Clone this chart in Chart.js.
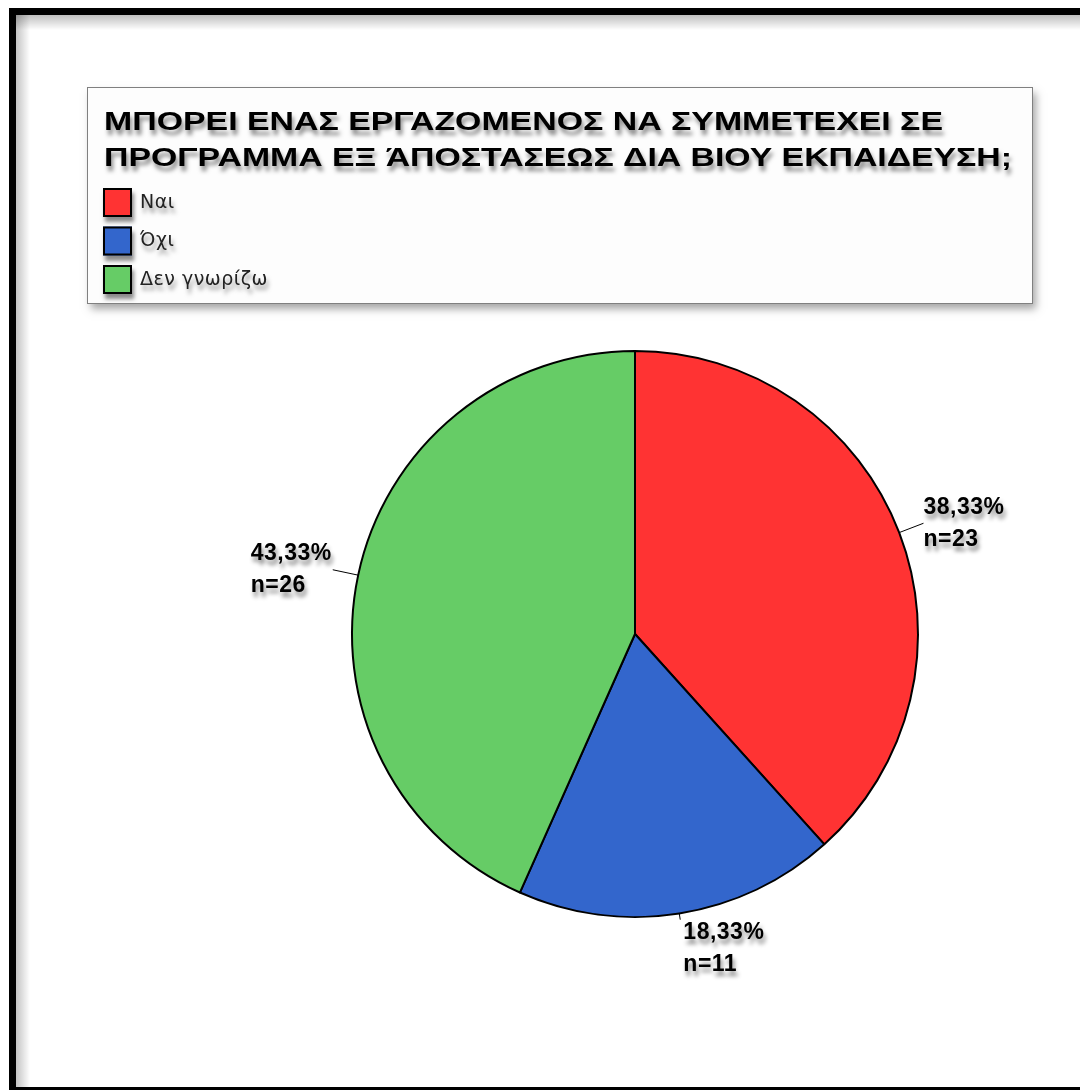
<!DOCTYPE html>
<html>
<head>
<meta charset="utf-8">
<script src="https://cdn.jsdelivr.net/npm/chart.js@4/dist/chart.umd.min.js"></script>
<style>
  html, body { margin: 0; padding: 0; background: #fff; }
  #wrap { width: 1080px; height: 1090px; }
</style>
</head>
<body>
<div id="wrap"><canvas id="pieChart" width="1080" height="1090"></canvas></div>
<script>
const categories = ['Ναι', 'Όχι', 'Δεν γνωρίζω'];
const counts = [23, 11, 26];
const titleLines = [
    'ΜΠΟΡΕΙ ΕΝΑΣ ΕΡΓΑΖΟΜΕΝΟΣ ΝΑ ΣΥΜΜΕΤΕΧΕΙ ΣΕ',
    'ΠΡΟΓΡΑΜΜΑ ΕΞ ΆΠΟΣΤΑΣΕΩΣ ΔΙΑ ΒΙΟΥ ΕΚΠΑΙΔΕΥΣΗ;'
];
const sliceColors = ['#ff3333', '#3366cc', '#66cc66'];

const total = counts.reduce((a, b) => a + b, 0);
const pct = v => (v / total * 100).toFixed(2).replace('.', ',') + '%';

function shadowOn(ctx, blur, dx, dy, alpha) {
    ctx.shadowColor = 'rgba(0,0,0,' + alpha + ')';
    ctx.shadowBlur = blur;
    ctx.shadowOffsetX = dx;
    ctx.shadowOffsetY = dy;
}
function shadowOff(ctx) {
    ctx.shadowColor = 'rgba(0,0,0,0)';
    ctx.shadowBlur = 0;
    ctx.shadowOffsetX = 0;
    ctx.shadowOffsetY = 0;
}
// draw text stretched horizontally to a given width
function fitText(ctx, text, x, y, width) {
    const w = ctx.measureText(text).width;
    ctx.save();
    ctx.translate(x, y);
    ctx.scale(width / w, 1);
    ctx.fillText(text, 0, 0);
    ctx.restore();
}

// background, outer frame and legend box
const framePlugin = {
    id: 'frame',
    beforeDraw(chart) {
        const ctx = chart.ctx;
        ctx.save();
        ctx.letterSpacing = '0px';
        ctx.fillStyle = '#ffffff';
        ctx.fillRect(0, 0, chart.width, chart.height);

        // soft inner shadow of the frame
        const g1 = ctx.createLinearGradient(15, 0, 30, 0);
        g1.addColorStop(0, 'rgba(0,0,0,0.25)');
        g1.addColorStop(1, 'rgba(0,0,0,0)');
        ctx.fillStyle = g1;
        ctx.fillRect(15, 15, 15, chart.height);
        const g2 = ctx.createLinearGradient(0, 15, 0, 30);
        g2.addColorStop(0, 'rgba(0,0,0,0.25)');
        g2.addColorStop(1, 'rgba(0,0,0,0)');
        ctx.fillStyle = g2;
        ctx.fillRect(15, 15, chart.width, 15);

        ctx.strokeStyle = '#000';
        ctx.lineWidth = 7;
        ctx.strokeRect(12.5, 11.5, chart.width + 20, 1079);

        // legend box
        shadowOn(ctx, 8, 3, 5, 0.35);
        ctx.fillStyle = '#fdfdfd';
        ctx.fillRect(88, 88, 945, 216);
        shadowOff(ctx);
        ctx.strokeStyle = '#808080';
        ctx.lineWidth = 1;
        ctx.strokeRect(87.5, 87.5, 945, 216);

        // title
        ctx.fillStyle = '#000';
        ctx.textBaseline = 'alphabetic';
        ctx.textAlign = 'left';
        ctx.font = 'bold 26px "Liberation Sans", Arial, sans-serif';
        shadowOn(ctx, 4, 2, 5, 0.45);
        fitText(ctx, titleLines[0], 104, 130, 839);
        fitText(ctx, titleLines[1], 104, 166, 908);

        // legend items
        ctx.font = '19px "DejaVu Sans", Arial, sans-serif';
        ctx.letterSpacing = '0.5px';
        categories.forEach((c, i) => {
            const y = 188 + i * 38.5;
            shadowOn(ctx, 4, 2, 5, 0.45);
            ctx.fillStyle = sliceColors[i];
            ctx.fillRect(103, y, 29, 29);
            shadowOff(ctx);
            ctx.strokeStyle = '#000';
            ctx.lineWidth = 2;
            ctx.strokeRect(104, y + 1, 27, 27);
            shadowOn(ctx, 4, 2, 5, 0.4);
            ctx.fillStyle = '#222';
            ctx.textBaseline = 'middle';
            ctx.fillText(c, 140, y + 15);
        });
        ctx.letterSpacing = '0px';
        ctx.restore();
    }
};

// percentage + n labels with leader lines
const sliceLabels = {
    id: 'sliceLabels',
    afterDatasetsDraw(chart) {
        const ctx = chart.ctx;
        const meta = chart.getDatasetMeta(0);
        ctx.save();
        meta.data.forEach((arc, i) => {
            const p = arc.getProps(['x', 'y', 'startAngle', 'endAngle', 'outerRadius'], true);
            const mid = (p.startAngle + p.endAngle) / 2;
            const cos = Math.cos(mid), sin = Math.sin(mid);
            const below = Math.max(0, sin);
            const x0 = p.x + cos * p.outerRadius, y0 = p.y + sin * p.outerRadius;
            const x1 = p.x + cos * (p.outerRadius + 26), y1 = p.y + sin * (p.outerRadius + 26);
            const lineEnd = p.outerRadius + 26 - below * 20;
            shadowOff(ctx);
            ctx.strokeStyle = '#000';
            ctx.lineWidth = 1;
            ctx.beginPath();
            ctx.moveTo(x0, y0);
            ctx.lineTo(p.x + cos * lineEnd, p.y + sin * lineEnd);
            ctx.stroke();

            const cy = y1 + below * 10;
            ctx.font = 'bold 23px "Liberation Sans", Arial, sans-serif';
            ctx.letterSpacing = '0.5px';
            ctx.textAlign = 'left';
            ctx.textBaseline = 'middle';
            ctx.fillStyle = '#000';
            shadowOn(ctx, 4, 2, 5, 0.45);
            const lines = [pct(counts[i]), 'n=' + counts[i]];
            let tx = x1;
            if (cos < 0) {
                // block sits left of the leader line, lines share a left edge
                tx = x1 - 1 - Math.max(...lines.map(l => ctx.measureText(l).width));
            }
            lines.forEach((l, k) => ctx.fillText(l, tx, cy - 16 + k * 32));
        });
        ctx.letterSpacing = '0px';
        ctx.restore();
    }
};

const ctx = document.getElementById('pieChart');
const pieChart = new Chart(ctx, {
    type: 'pie',
    data: {
        labels: categories,
        datasets: [{
            data: counts,
            backgroundColor: sliceColors,
            borderColor: '#000',
            borderWidth: 2
        }]
    },
    options: {
        responsive: false,
        animation: false,
        devicePixelRatio: 1,
        layout: {
            padding: { left: 351, right: 161, top: 350, bottom: 172 }
        },
        plugins: {
            legend: { display: false },
            tooltip: { enabled: false }
        }
    },
    plugins: [framePlugin, sliceLabels]
});
</script>
</body>
</html>
